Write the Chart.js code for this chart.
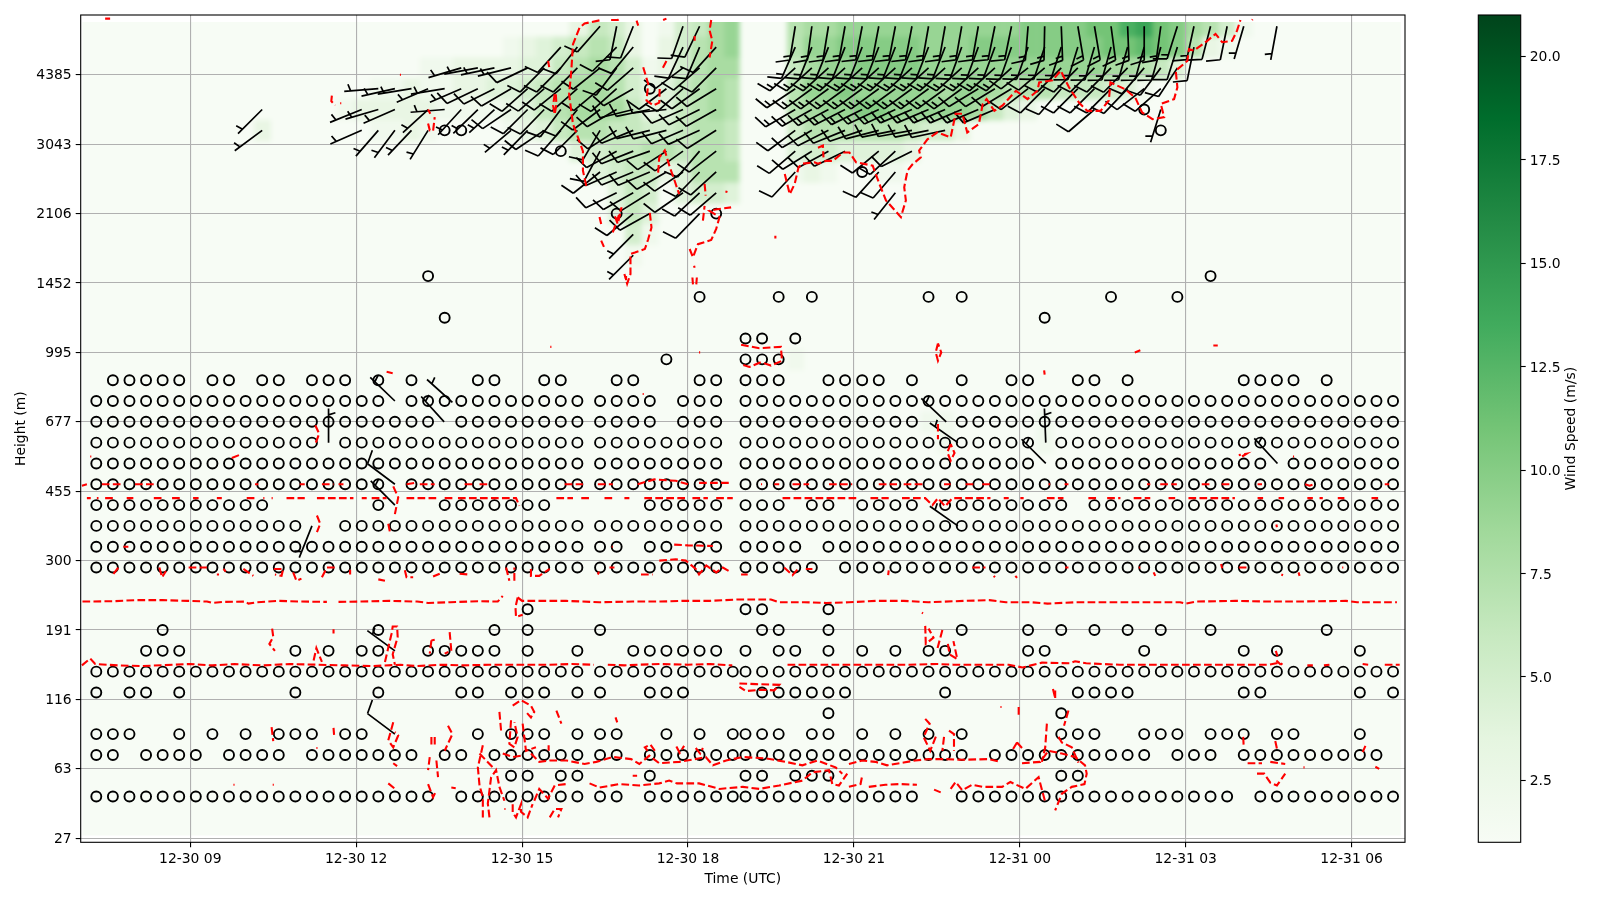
<!DOCTYPE html>
<html>
<head>
<meta charset="utf-8">
<title>Wind profile</title>
<script src="https://cdn.jsdelivr.net/npm/chart.js@4"></script>
<style>
html, body { margin: 0; background: #fff; }
canvas { position: absolute; left: 0; top: 0; }
</style>
</head>
<body>
<canvas id="mainChart" width="1600" height="900"></canvas>
<canvas id="barChart" width="1600" height="900"></canvas>
<script>
// x axis is hours since 12-30 00 UTC, y axis is the height level index
const xTickHours = [9, 12, 15, 18, 21, 24, 27, 30];
const xTickLabels = ["12-30 09", "12-30 12", "12-30 15", "12-30 18", "12-30 21", "12-31 00", "12-31 03", "12-31 06"];
const yTickLevels = [0, 10, 20, 30, 40, 50, 60, 70, 80, 90, 100, 110];
const yTickLabels = ["27", "63", "116", "191", "300", "455", "677", "995", "1452", "2106", "3043", "4385"];
const barTicks = [2.5, 5, 7.5, 10, 12.5, 15, 17.5, 20];

// observation times of the barb columns
const times = [7.3,7.6,7.9,8.2,8.5,8.8,9.1,9.4,9.7,10,10.3,10.6,10.9,11.2,11.5,11.8,12.1,12.4,12.7,13,13.3,13.6,13.9,14.2,14.5,14.8,15.1,15.4,15.7,16,
  16.41,16.71,17.01,17.31,17.61,17.91,18.21,18.51,18.81,19.04,19.34,19.64,19.94,20.24,20.54,20.84,
  21.15,21.45,21.75,22.05,22.35,22.65,22.95,23.25,23.55,23.85,24.15,24.45,24.75,25.05,25.35,25.65,25.95,26.25,26.55,26.85,27.15,27.45,27.75,28.05,28.35,28.65,28.95,29.25,29.55,29.85,30.15,30.45,30.75];

// calm (empty barb) columns per level, a pair is an inclusive run
const calm6 = [[0,20],[22,31],[33,49],[52,68],[70,78]];
const calm9 = [25,26,28,29,33,39,40,42,43,44,58,59];
const calm12 = [[0,1],[3,6],[8,11],[13,19],[21,22],[24,31],[33,52],[54,63],[65,67],[69,77]];
const calm15 = [0,1,2,5,7,9,11,12,13,15,16,23,25,26,27,29,30,31,34,36,38,39,40,41,43,44,46,48,50,52,58,59,60,63,64,65,67,68,69,71,72,76];
const calm18 = [44,58];
const calm21 = [0,2,3,5,12,17,22,23,25,26,27,29,30,33,34,35,40,41,42,43,44,45,51,59,60,61,62,69,70,76,78];
const calm24 = [[0,78]];
const calm27 = [3,4,5,12,14,16,17,20,21,22,23,24,26,29,32,33,34,35,36,37,39,41,42,44,46,48,50,51,56,57,63,69,71,76];
const calm30 = [4,17,24,26,30,40,41,44,52,56,58,60,62,64,67,74];
const calm33 = [26,39,40,44];
const calm39 = [[0,37],[39,43],[45,78]];
const calm42 = [[0,31],[33,34],[36,37],[39,42],[44,78]];
const calm45 = [[0,12],[15,37],[39,78]];
const calm48 = [[0,10],17,[21,27],[33,37],[39,41],[43,44],[46,49],[51,58],[60,78]];
const calm51 = [[0,17],[19,37],[39,78]];
const calm54 = [[0,37],[39,56],[58,70],[72,78]];
const calm57 = [[0,13],[15,37],[39,56],[58,78]];
const calm60 = [[0,20],[22,33],[35,37],[39,49],[52,78]];
const calm63 = [[0,17],[19,33],[35,37],[39,78]];
const calm66 = [1,2,3,4,5,7,8,10,11,13,14,15,17,19,23,24,27,28,31,32,36,37,39,40,41,44,45,46,47,49,52,55,56,59,60,62,69,70,71,72,74];
const calm69 = [34,39,40,41];
const calm72 = [39,40,42];
const calm75 = [21,57];
const calm78 = [36,41,43,50,52,61,65];
const calm81 = [20,67];
const calm90 = [31,37];
const calm96 = [46];
const calm99 = [28];
const calm102 = [21,22,64];
const calm105 = [63];
const calm108 = [33];
const calmRows = [[6,calm6],[9,calm9],[12,calm12],[15,calm15],[18,calm18],[21,calm21],[24,calm24],[27,calm27],[30,calm30],[33,calm33],
  [39,calm39],[42,calm42],[45,calm45],[48,calm48],[51,calm51],[54,calm54],[57,calm57],[60,calm60],[63,calm63],[66,calm66],[69,calm69],
  [72,calm72],[75,calm75],[78,calm78],[81,calm81],[90,calm90],[96,calm96],[99,calm99],[102,calm102],[105,calm105],[108,calm108]];

// wind barbs per level: [column, u, v] in m/s
const barb117 = [[30,6.6,7.5],[31,2,10],[32,3.7,9.3],[35,3.3,9.4],[36,4.3,9],
  [42,2.4,14.8],[43,2,14.9],[44,2.4,14.8],[45,2.6,14.7],[46,2.8,14.7],[47,2.8,14.7],[48,2.8,14.7],[49,2.8,14.7],[50,2.6,14.8],[51,2.6,14.8],[52,2.6,14.8],[53,2.6,14.8],[54,3,14.7],[55,3,14.7],
  [56,1.2,14.9],[57,0.3,15],[58,-0.6,15],[59,-2.5,14.8],[60,-2.5,14.8],[61,-2,14.9],[62,-0.6,15],[63,0,15],[64,2,14.9],[65,4.5,14.3],[66,3.2,14.6],[67,2.5,9.7],[68,2,9.8],[69,1.4,4.8],[71,0.9,4.9]];
const barb114 = [[28,6.7,7.4],[29,6.2,7.8],[31,7,7],[32,6.4,7.7],[35,4.2,9],[36,3.9,9.2],[37,6.7,7.4],
  [42,6,13.7],[43,5.6,14],[44,5.6,14],[45,5.6,14],[46,5.5,14],[47,5.5,14],[48,5.5,14],[49,5.5,14],[50,5.5,14],[51,5.5,14],[52,5.2,14.1],[53,5.2,14.1],[54,5.2,14.1],[55,5,14.2],[56,5,14.2],[57,4.8,14.2],[58,4.6,14.3],[59,4.4,14.3],[60,4.2,14.4],
  [61,4,14.4],[62,4,14.4],[63,4,14.4],[64,4,14.4],[65,3,9.5],[66,2,9.8]];
const barb111 = [[22,4.7,1.4],[23,4.9,0.9],[24,4.8,1],[25,4.8,1.2],[26,9,4.3],[27,7,7],[28,7,7],[29,7,7],[30,7.5,6],[31,6,8],[32,7.5,6.5],[35,8,6],[36,7.6,6.5],[37,7,7],
  [42,10.5,9.5],[43,10.5,9.5],[44,10.5,9.5],[45,10.5,9.5],[46,10.5,9.5],[47,10.5,9.5],[48,10.5,9.5],[49,10.5,9.5],[50,10.5,9.5],[51,10.5,9.5],[52,10.5,9.5],[53,10.5,9.5],[54,10.5,9.5],[55,10.5,9.5],
  [56,8,6.2],[57,7.6,6.5],[58,7,7],[59,7,7],[60,7,7],[61,7,7],[62,7,7.1],[63,6.5,7.6],[64,6,8],[65,5.5,8.4]];
const barb108 = [[17,5,0.4],[18,5,1.1],[19,5,0.8],[20,4.6,2],[21,5,0.8],[22,4.6,2],[23,9,4.3],[24,9,4.5],[25,8.5,5],[26,7.5,6.6],[27,7.5,6.5],[28,7.5,6],[29,7.5,6.6],[30,7.7,6.4],[31,7.5,6.7],[32,8.7,5],[34,8,6],[35,7.5,6.7],[36,8,5.8],[37,8.5,5.2],
  [42,11.2,7.5],[43,11,8],[44,11,8],[45,11,8],[46,11,8],[47,11,8],[48,11,8],[49,11,8],[50,11,8],[51,11,8],[52,11,8],[53,9,5.5],[54,9,5.5],[55,9,5.5],[56,8,6.2],[57,7,7],[58,6.5,7.5],[59,7,7],[60,7,7],[61,7,7],[62,6.9,7.2],[63,7.9,6.1],[64,7.5,6.6]];
const barb105 = [[10,3.6,3.6],[16,4.7,1.9],[17,4.8,1.4],[18,4.6,2],[20,3.7,3.4],[21,5,0.4],[22,3.4,3.7],[23,3.6,3.5],[24,3.7,3.4],[25,8.3,5.6],[26,7,7],[27,7,7.2],[28,6,8],[29,6.3,7.7],[30,8,6],[31,8.6,5],[32,9.7,2.4],[33,9.8,2],[34,10,1],[35,9.2,4],[36,9,4.5],[37,8.7,4.9],
  [42,12,7],[43,12.2,6.8],[44,12.4,6.5],[45,12.5,6.4],[46,12.6,6.2],[47,12.8,6],[48,12.8,6],[49,13,5.5],[50,13,5.5],[51,13,5.5],[52,13,5.5],[53,13,5.5],[54,13,5.5],[60,7.6,6.5],[64,1.5,4.8]];
const barb102 = [[10,3.9,2.9],[16,4.6,2],[17,3.3,3.8],[18,3,4],[19,3.4,3.6],[20,2.6,4.2],[25,3.8,3.2],[26,3.5,3.6],[27,8.3,5.6],[28,6.6,7.5],[29,7,7],[30,5,8.6],[31,8.4,5.4],[32,9.3,3.8],[33,9.7,2.4],[34,9.7,2.5],[35,9.2,3.9],[36,9.1,4.1],[37,8.5,5.3],
  [42,7.5,5.6],[43,8.6,5],[44,8.9,4.5],[45,9.3,3.8],[46,9.5,3.2],[47,9.7,2.5],[48,9.8,2],[49,9.8,1.8],[50,9.8,2],[51,9.8,2.1]];
const barb99 = [[30,4.7,8.8],[31,8.8,4.8],[32,9.3,3.7],[33,9.4,3.3],[34,8.4,5.4],[35,8.2,5.8],[36,6.5,7.6],[37,7.9,6.1],[42,7.6,6.5],[43,8.5,5.3],[44,8.8,4.8],[45,9,4.4],[47,7.7,6.4],[48,7.3,6.8],[49,8.9,4.5]];
const barb96 = [[30,7.8,6.2],[31,9.1,4],[32,9.2,3.8],[33,9.2,3.9],[34,8.5,5],[35,8.3,5.6],[36,7,7.2],[37,7.4,6.7],[42,6.8,7.3],[47,6.7,7.4],[48,6.5,7.6]];
const barb93 = [[31,9,4.4],[32,8.7,4.9],[33,8.5,5.3],[35,8.2,5.7],[36,7.3,6.8],[37,7.6,6.6],[48,3.1,3.9]];
const barb90 = [[32,7.7,6.4],[33,8.7,4.8],[36,7,7.2]];
const barb87 = [[32,3.5,3.5]];
const barb84 = [[32,3.5,3.5]];
const barbRows = [[117,barb117],[114,barb114],[111,barb111],[108,barb108],[105,barb105],[102,barb102],[99,barb99],[96,barb96],[93,barb93],[90,barb90],[87,barb87],[84,barb84]];

// the few barbs low down: [hour, level, u, v]
const lowBarbs = [[12.7,63,5,-4.8],[13.74,62.8,5,-4.5],[13.59,60,4.8,-5.3],[11.5,57,0,-5],[12.7,51,6,-4.5],[12.7,48,5,-5],[11.2,45,2,5],[12.7,27,6,-4.4],[12.7,15,6,-4.5],
  [22.67,60,5,-4.7],[22.88,57,6,-4.2],[24.47,57,0.2,-5],[24.47,54,5,-5],[22.88,45,6,-4.2],[28.66,54,4.8,-5.2]];

// wind speed per level as [first column, speeds], one base 36 digit per column
const heat117 = [[29,"3653125689"],[42,"78899999999999aaaabbdeba8752"]];
const heat114 = [[25,"23456763135789"],[42,"799aaaaa999aaaaaaaabbcba732"]];
const heat111 = [[20,"2233334467875235788"],[42,"6899aaaa9999999999988764" + "1"]];
const heat108 = [[17,"2232233445678875346787"],[42,"799a9999989987776665" + "42"]];
const heat105 = [[15,"233333222234678886346787"],[42,"7899aa999998643"]];
const heat102 = [[10,"3"],[17,"2232"],[25,"23467766556776"],[42,"57777776553"]];
const heat99 = [[29,"4566776776"],[42,"45544443"]];
const heat96 = [[30,"456634777"],[42,"232"],[47,"22"]];
const heat93 = [[31,"46514554"]];
const heat90 = [[31,"464"]];
const heat87 = [[32,"52"]];
const heat84 = [[32,"2"]];
const heat69 = [[42,"2"]];
const heat60 = [[50,"22"],[57,"2"]];
const heat57 = [[51,"2"],[57,"2"]];
const heatRows = [[117,heat117],[114,heat114],[111,heat111],[108,heat108],[105,heat105],[102,heat102],[99,heat99],[96,heat96],[93,heat93],[90,heat90],[87,heat87],[84,heat84],[69,heat69],[60,heat60],[57,heat57]];

// red contour pieces as [hour, level], null breaks the line
const redTop = [[7.46,118.1],[7.55,118.1],null,
  [16.16,94],[16.1,96.2],[16.1,99],[16.01,101],[15.92,102.9],[15.85,107.2],[15.89,110.6],[15.92,114.4],[16.04,116.8],[16.13,117.4],[16.43,117.9],null,[16.61,117.9],[16.73,117.9],[16.78,118.2],null,
  [15.47,112],[15.49,111.1],null,[15.59,107.2],[15.56,105.6],[15.59,104.3],[15.62,105.8],[15.61,107.2],null,
  [17.46,95.9],[17.48,98.1],[17.58,99.1],[17.67,96.7],[17.76,94.7],[17.84,92.8],null,
  [16.4,89.5],[16.43,88.5],null,[16.43,86.1],[16.48,85.2],null,[16.64,87.3],[16.8,90.9],[16.73,88.5],[16.66,90],null,
  [17.31,90.1],[17.34,88],[17.28,86.3],[17.22,84.9],[17.04,84.4],[16.96,84.2],[16.96,81.3],[16.9,79.9],[16.85,81.3],null,
  [18.03,84.9],[18.09,83.7],[18.18,85.6],[18.42,86.2],[18.51,87.8],[18.57,89.5],[18.39,90.4],[18.5,90.6],[18.78,90.9],null,
  [18.27,89],[18.3,91.1],null,[18.3,94.3],[18.32,92.6],null,[18.69,93],[18.7,93.3],null,[18.11,82.5],[18.12,82.2],null,[18.08,80.8],[18.09,79.8],null,[18.16,80.8],[18.15,79.8],null,
  [17.07,117.8],[17.1,117.1],null,[17.19,111.1],[17.28,108.7],[17.25,106.3],[17.37,105.6],[17.48,106],[17.49,108.4],null,[17.61,112],[17.52,110.6],null,
  [18.42,117.9],[18.39,116.4],[18.44,114.9],[18.39,112.5],null,[18.12,115.6],[18.12,114.9],null,[17.55,117.9],[17.61,118.1],null,[19.58,86.8],[19.58,86.4],null,
  [19.75,95.7],[19.84,92.8],[19.93,94.3],[20,96.7],[20.08,97.2],[20.29,97.4],[20.35,97.2],[20.5,97.6],[20.62,97.6],[20.8,98.8],[20.92,98.8],[21.04,97.4],[21.34,96.9],[21.46,94.3],[21.58,91.9],[21.85,89.5],[21.94,91.9],[21.91,93.8],[21.97,96.2],[22.06,97.1],[22.21,98.1],[22.18,99.1],[22.33,100.7],[22.51,101.7],[22.75,101],[22.84,104.4],[22.96,104.4],[23.05,101.7],[23.26,102.9],[23.33,105.8],[23.4,106.5],[23.54,104.8],[23.69,105.6],[23.93,107.7],[24.14,106.5],[24.32,107.7],[24.35,108.9],[24.59,109.2],[24.74,110.6],[24.89,108.2],[25.07,106],[25.22,104.8],[25.46,104.8],[25.61,106.3],[25.64,108.9],[25.91,107.9],[26.09,106.7],[26.21,104.6],[26.4,103.6],[26.61,103.9],[26.55,105.8],[26.79,106.5],[26.85,108.2],[26.82,110.6],[27.03,112],[27.06,113.7],[27.15,113.5],[27.39,114.9],[27.54,115.9],[27.66,114.7],[27.84,114.9],[27.93,116.4],[27.99,117.9],null,
  [28.2,117.9],[28.21,118],null,[20.35,99.5],[20.44,99.8],[20.45,98.1],null,
  [11.56,107],[11.55,106.2],[11.62,105.6],null,[11.71,105.9],[11.73,105.9],null,[13.3,105],[13.34,104.4],null,[13.3,103],[13.33,102],[13.39,101.9],[13.42,103.9],null,[12.79,110],[12.81,110],null];
const redMid = [[18.96,71.1],[19.29,70.6],[19.68,70.8],[19.7,68.8],[19.5,68.1],[19.32,68.6],[19.11,67.9],[18.96,68.3],null,
  [15.51,70.8],[15.53,70.8],null,[18.2,70],[18.22,70],null,[16.88,81],[16.88,80.4],null,[17.18,64],[17.2,64],null,
  [22.52,71.3],[22.48,70],[22.52,68.8],[22.58,70],[22.52,71.3],null,[24.44,67.4],[24.45,66.8],null,[26.08,70],[26.18,70.3],null,[27.5,71],[27.58,71],null,
  [22.52,59.7],[22.52,57.5],null,[22.75,56.8],[22.69,55.6],[22.75,54.4],[22.82,55.5],[22.75,56.8],null,
  [11.26,59.5],[11.33,58.3],[11.27,57],null,[9.75,54.8],[9.88,55.2],null,[7.19,55],[7.21,55],null,[12.55,67.2],[12.66,67],null,
  [28.02,55],[28.1,55.4],[27.96,55.2],null,[28.94,55],[28.96,55],null,[12.67,50.7],[12.76,49.1],[12.7,46.7],null,[12.58,45.3],[12.61,44.1],null,[11.29,46.5],[11.35,45.3],[11.29,44.1],null,[7.79,42],[7.88,42],null,
  [28.64,45.2],[28.65,44.8],null,[16.62,42],[16.64,42],null,[17.75,42.3],[18,42.2],[18.45,42.1],null];
const redLevel51 = [[7.04,50.8],[7.13,51],null,[7.4,51],[7.76,51],null,[8,51],[8.34,51],null,[10.17,51],[10.23,51],null,[10.98,51],[11.07,51],null,[11.38,51],[11.59,51],null,[11.68,51],[11.77,51],null,[12.91,51],[13.06,51.2],null,[13.15,51],[13.42,51],null,
  [13.96,51],[14.11,51],null,[14.23,51],[14.41,51],null,[15.77,51],[16.1,51],null,[16.37,51],[16.64,51],null,[17.09,51],[17.39,51.7],[17.78,51.5],[18,51],null,[18.2,51.2],[18.78,51.2],null,[19.32,51],[19.34,51],null,[19.56,51],[19.65,51],null,[19.89,51],[20.19,51],null,[20.55,51],[20.97,51],null,
  [21.45,51],[21.78,51],null,[21.9,51],[22.26,51],null,[22.63,51],[22.75,51],null,[23.02,51],[23.17,51],null,[23.32,51],[23.47,51],null,[24.52,51],[24.55,51],null,[24.81,51],[24.88,51],null,[26.3,51],[26.36,51],null,[26.54,51],[26.84,51],null,[27.29,51],[27.47,51],null,[27.65,51],[27.8,51],null,
  [28.3,51],[28.38,51],null,[29.16,51],[29.24,50.8],[29.32,51],null,[30.6,51],[30.68,51],null];
const redLevel49 = [[7.13,49],[7.2,49],null,[7.31,49],[7.34,49],null,[7.46,49],[7.64,49],null,[7.85,49],[7.97,49],null,[8.34,49],[8.49,49],null,[8.67,49],[8.85,49],null,[9.05,49],[9.15,49],null,[9.48,49],[9.57,49],null,[10.02,49],[10.17,49],null,[10.32,49],[10.34,49],null,[10.47,49],[10.49,49],null,[10.74,49],[11.07,49],null,[11.29,49],[11.95,49],null,[12.1,49],[12.19,49],null,[12.28,49],[12.55,49],null,[12.91,49],[13.48,49],null,[13.6,49],[13.75,49],null,[13.84,49],[14.89,49],[14.95,47.9],null,
  [15.62,49],[15.92,49],null,[16.07,49],[16.25,49],null,[16.49,49],[16.67,49],null,[16.85,49],[16.94,49],null,[17.21,49],[17.96,49],null,[18.08,49],[18.36,49],null,[18.51,49],[18.81,49],null,[19.71,49],[21.09,49],null,[21.3,49],[21.63,49],null,[21.87,49],[22.29,49],[22.42,48],[22.52,49],[22.65,47.8],[22.78,49],[23.47,49],null,[23.71,49],[23.8,49],null,[24.01,49],[24.07,49],null,[24.49,49],[24.79,49],null,[25.24,49],[25.43,49],null,[25.58,49],[25.82,49],null,[26.06,49],[26.36,49],null,[26.69,49],[26.81,49],null,[27.05,49],[27.89,49],null,
  [28.3,49],[28.4,49],null,[28.68,49],[28.78,49],null,[29.2,49],[29.3,49],null,[29.42,49],[29.48,49],null,[29.75,49],[29.87,49],null,[30.36,49],[30.48,49],null];
const redLevel38 = [[7.61,38.1],[7.7,39],null,[8.44,39],[8.49,37.6],[8.56,38.5],null,[8.97,39],[9.3,39],null,[9.48,38],[9.52,38],null,[9.6,38.8],[9.64,38.4],null,[9.96,38.8],[10.14,37.8],null,[10.51,38.8],[10.68,38.8],[10.65,37.8],[10.53,38],null,[10.86,38.3],[10.92,37.1],[11.01,37.4],null,[11.38,37.6],[11.47,39],[11.65,39],null,[11.89,38.7],[11.89,38],null,[12.4,37.3],[12.52,37.1],null,[12.88,38.6],[12.91,37.6],[13.03,37.6],null,[13.39,37.7],[13.51,38.1],null,[13.87,38.1],[14.05,38],null,
  [14.71,39],[14.77,37.1],null,[14.86,37.1],[14.86,39],null,[15.16,38.8],[15.16,37.8],[15.31,37.8],[15.5,38.8],null,[16.37,38],[16.39,38.4],null,[16.58,39],[16.67,39],null,[17.15,38],[17.36,38],null,[17.48,40],[17.78,40.2],[17.96,40],[18.14,38.8],[18.2,38],[18.33,39.3],[18.51,38.3],[18.63,39],[18.78,38.3],null,[18.96,38],[19.08,38],null,[19.74,39],[19.89,37.9],[20.01,39],null,[20.13,38.8],[20.25,38.8],null,
  [21.63,38.6],[21.62,37.9],null,[23.14,39],[23.38,39],null,[23.53,37.8],[23.55,37.6],null,[23.92,37.8],[23.95,37.5],null,[24.82,39],[24.88,39],null,[26.15,39],[26.18,39],null,[26.42,38.3],[26.45,37.8],null,[27.64,39.5],[27.66,38.9],null,[27.96,39],[28.1,39],null,[28.73,38],[28.76,37.9],null,[29.04,38.3],[29.06,37.8],null,[29.83,39],[29.85,39],null];
const redLine34 = [[7.05,34.1],[7.6,34.15],[8,34.3],[8.5,34.3],[8.95,34.2],[9.3,34.1],[9.4,33.9],[9.6,34.05],[10,34.1],[10.05,33.8],[10.2,34],[10.6,34.2],[11,34.1],[11.47,34.05],null,[11.68,34.05],[12.1,34.1],[12.6,34.2],[13.1,34.1],[13.3,33.9],[13.7,34],[14.2,34.15],[14.56,34.1],[14.65,34.9],null,
  [14.92,34.7],[14.88,33.3],[14.89,31.9],[15.01,32.2],null,[14.92,34.7],[15,34.2],[15.8,34.2],[16.4,34],[17,34.1],[17.5,34.1],[17.9,34.2],[18.4,34.2],[18.9,34.4],[19.5,34.4],[19.65,34],[20.1,34],[20.5,33.9],[20.91,34],[21.4,34.2],[21.9,34.2],[22.35,34],[23,34.2],[23.45,34.3],[23.75,34],[24.2,34],[24.5,33.8],[25,34],[25.5,34],[26,34],[26.9,34],[27,33.8],[27.2,34.1],[27.9,34.2],[28.5,34.1],[29,34.1],[29.9,34.2],[30.1,34],[30.82,34]];
const redLine25 = [[7.04,24.9],[7.19,25.9],[7.28,25.1],[7.7,24.9],[8.1,24.8],[8.7,25],[9,25.1],[9.4,24.9],[9.8,25.1],[10.3,24.9],[10.8,25.1],[11.3,25],[11.8,24.9],[12.3,24.8],[12.8,25],[13.1,24.8],[13.55,25],[13.9,24.9],[14.4,25],[15,25],[15.5,25],[15.9,25.1],[16.3,25],null,[16.55,25],[16.85,24.9],[17.1,25],[17.5,25.1],[18,25],[18.4,25.1],[18.8,24.9],null,
  [19.8,25],[20.1,25],[20.5,25],[20.9,25],[21.4,25],[22,25],[22.5,25.1],[22.8,25],[23.3,25],[23.8,25],[24.05,24.6],[24.4,25.3],[24.9,25.2],[25,25.5],[25.2,25.2],[25.8,25],[26.3,25],[26.9,25],[27.5,25],[27.96,25],[28.5,25],[28.7,25.3],[28.75,25],null,[29.2,24.9],[29.3,24.9],null,[29.5,24.9],[29.6,25],null,[30.2,25.1],[30.3,25],null,[30.6,25],[30.87,25]];
const redBumps = [[11.23,25.6],[11.28,27.4],[11.38,25.4],null,[12.52,25.4],[12.64,29.5],[12.66,30.5],[12.74,30.5],[12.75,29],[12.66,26.5],[12.7,25],null,
  [10.48,30.2],[10.5,29],[10.43,28],[10.53,27],null,[11.59,30.1],[11.59,29.5],null,[13.36,28.5],[13.33,26.6],null,[13.36,28.5],[13.42,28.6],null,[13.69,29.7],[13.72,27],[13.6,26.6],null,
  [18.93,22.3],[19.23,22.2],[19.65,22.1],[19.56,21.3],[19.32,21.4],[19.05,21.2],[18.93,21.8],null,
  [22.29,30.6],[22.3,28],[22.44,28.9],[22.35,30.2],null,[22.6,30],[22.5,27],null,[22.7,28],[22.73,26.5],[22.87,25.8],[22.8,28.4],null,[22.23,32.5],[22.25,32.4],null,[24.6,21.5],[24.64,20.2],null,[28.63,27],[28.66,26.2],null,[28.64,25.6],[28.72,25],null];
const redLow1 = [[15.16,12.2],[15.31,11],[15.5,11.2],[15.8,11.2],[16.13,10.7],[16.34,11],[16.64,11.7],[16.97,11.4],[17.12,10.7],[17.3,11.9],[17.48,10.8],[17.84,11],[18.14,11.4],[18.32,11.7],[18.45,10.5],[18.69,11.2],[18.99,11.7],[19.41,11.5],[19.77,11],[20.07,10.5],[20.34,11.2],[20.67,10.2],[20.79,9.3],null,
  [20.91,10.7],[21.15,11.2],[21.39,11],[21.6,10.5],[21.9,10.9],[22.11,11.2],[22.35,11.4],[22.66,11.4],[22.96,11.3],[23.44,11.4],[23.65,11],null,[24.04,10.8],[24.37,11],[24.52,12.6],[24.76,12.2],[25,11.7],[25.18,10.5],[25.21,9.3],[25.17,7.8],[24.94,7.4],[24.76,6.4],[24.64,4],null,
  [16.22,7.9],[16.4,7.3],[16.76,7.8],[17.12,7.6],[17.48,7.9],[17.66,8.3],[17.8,7.9],[18.2,7.9],[18.57,7.1],[18.99,7.4],[19.29,7.1],[19.65,7.6],[20.07,8.3],[20.25,9.5],[20.55,9.8],[20.61,7.8],[20.73,7.6],[20.88,9.3],null,
  [20.91,7.4],[21.12,7.8],[21.15,9],null,[21.27,7.4],[21.57,7.7],[21.84,7.8],[22.14,7.7],null,[22.45,7],[22.57,6.6],null,[22.75,7.1],[22.84,8.1],[22.96,6.9],[23.14,7.7],[23.32,7.4],[23.68,7.4],[23.83,8.1],[24.1,7.1],[24.34,8.8],[24.46,5.2],null];
const redLow2 = [[22.29,17.2],[22.37,16.5],[22.26,14.6],[22.38,12.6],[22.5,15],null,[22.63,14.6],[22.6,12.6],null,[22.72,15.5],[22.81,15],[22.81,12.6],null,[23.95,13.8],[23.86,12.6],null,[23.95,13.8],[24.04,13],null,
  [24.64,21.3],[24.64,19.8],null,[24.88,18.4],[24.8,16.2],null,[24.49,16.5],[24.46,13.1],[24.4,11],null,[24.7,14.6],[24.76,13.8],[24.94,13.1],[25.06,10.9],null,[23.98,18.9],[23.98,17.4],null,[23.65,18.9],[23.67,18.9],null,
  [12.67,16.7],[12.58,14.1],[12.67,13.1],[12.76,14.8],[12.7,15.3],null,[13.36,14.6],[13.36,13.4],null,[13.42,14.6],[13.42,13.4],null,[13.33,11.7],[13.3,9.8],null,[13.45,11.2],[13.48,8.8],null,[13.3,7.8],[13.39,5.9],[13.45,6.9],null,[13.66,16.2],[13.74,15],[13.6,12.6],null,[10.47,16],[10.5,14],null,[11.59,15.9],[11.6,14.9],null,[12.58,7.9],[12.72,7],null,[12.67,10.8],[12.74,10.4],null,[13.72,7.3],[13.8,7.2],null,[9.78,7.7],[9.8,7.7],null,[10.49,7.7],[10.51,7.7],null,[11.28,13],[11.3,13],null,
  [14.29,13.4],[14.2,10.2],[14.23,7.6],[14.29,5.9],[14.29,3],null,[14.41,3],[14.38,5],[14.44,8.8],[14.53,9.8],[14.59,7.4],[14.68,5.4],null,[14.23,12.2],[14.47,10.2],null,[14.59,18.2],[14.62,15.5],null,[14.83,19.1],[14.98,19.9],[15.16,19.1],[15.22,18.2],[15.16,17.4],[15.07,18.2],null,[14.8,17],[14.77,13.6],[14.86,13.1],[14.92,14.6],[14.86,16.7],null,[15.01,16.5],[15.07,12.6],[15.25,13.1],null,[14.65,12.2],[14.83,11.7],[15,11.9],null,[15.48,13.4],[15.48,12.6],null,[15.62,18.4],[15.71,16.5],null,[16.69,17.4],[16.72,16.7],null,
  [14.83,4.9],[14.83,3.7],[14.89,3],[14.98,4.9],[14.98,3.8],[15.1,3],[15.19,4.9],null,[15.22,5.4],[15.31,7.1],[15.47,5.7],[15.59,7.6],[15.8,7.8],null,[15.5,3],[15.59,4.2],[15.71,4.2],[15.65,3],null,[14.68,4.2],[14.7,4.2],null,[17,9],[17.08,9],null,[17.27,12.6],[17.22,13.1],[17.32,13.5],[17.4,12.6],null,[17.79,13.2],[17.85,12.3],[17.93,13.3],null,[18.14,13],[18.22,12.2],[18.27,13],null,[28.04,14.6],[28.05,13.1],null,[28.62,14],[28.65,12.9],null,[28.12,10.8],[28.38,10.8],null,[28.53,11],[28.8,10.7],null,[28.29,9.3],[28.42,9.3],[28.53,8],[28.65,7.6],[28.8,9.3],null,[30.25,13.3],[30.2,12.4],null,[29.13,10.2],[29.15,10.2],null,[30.43,10.3],[30.5,10],null];
const redPieces = [redTop, redMid, redLevel51, redLevel49, redLevel38, redLine34, redLine25, redBumps, redLow1, redLow2];

const greens = ["#f7fcf5", "#e5f5e0", "#c7e9c0", "#a1d99b", "#74c476", "#41ab5d", "#238b45", "#006d2c", "#00441b"];
const speedMin = 1, speedMax = 21;

function hexToRgb(h) {
  return [parseInt(h.slice(1, 3), 16), parseInt(h.slice(3, 5), 16), parseInt(h.slice(5, 7), 16)];
}

function speedColor(s) {
  const t = Math.min(Math.max((s - speedMin) / (speedMax - speedMin), 0), 1) * (greens.length - 1);
  const i = Math.min(Math.floor(t), greens.length - 2);
  const a = hexToRgb(greens[i]), b = hexToRgb(greens[i + 1]), f = t - i;
  return "rgb(" + a.map((c, k) => Math.round(c + (b[k] - c) * f)).join(",") + ")";
}

const calmPoints = [];
calmRows.forEach(([level, cols]) => {
  cols.forEach(c => {
    const from = Array.isArray(c) ? c[0] : c;
    const to = Array.isArray(c) ? c[1] : c;
    for (let i = from; i <= to; i++) calmPoints.push({ x: times[i], y: level });
  });
});

const barbPoints = [];
barbRows.forEach(([level, row]) => {
  row.forEach(([col, u, v]) => barbPoints.push({ x: times[col], y: level, u: u, v: v }));
});
lowBarbs.forEach(([hour, level, u, v]) => barbPoints.push({ x: hour, y: level, u: u, v: v }));

function redData(piece) {
  return piece.map(p => p ? { x: p[0], y: p[1] } : { x: NaN, y: NaN });
}

const redSets = redPieces.map(piece => ({
  type: "line",
  data: redData(piece),
  borderColor: "#ff0000",
  borderWidth: 2.1,
  borderDash: [7.7, 3.3],
  pointRadius: 0,
  tension: 0,
  spanGaps: false,
  order: 1
}));

// the speed field goes under the grid lines
const heatPlugin = {
  id: "heat",
  beforeDraw(chart) {
    const xs = chart.scales.x, ys = chart.scales.y, ctx = chart.ctx;
    const off = document.createElement("canvas");
    off.width = chart.width;
    off.height = chart.height;
    const o = off.getContext("2d");
    o.fillStyle = speedColor(speedMin);
    o.fillRect(0, 0, off.width, off.height);
    heatRows.forEach(([level, spans]) => {
      const top = ys.getPixelForValue(level + 1.5), bottom = ys.getPixelForValue(level - 1.5);
      spans.forEach(([first, digits]) => {
        for (let i = 0; i < digits.length; i++) {
          const c = first + i;
          const left = xs.getPixelForValue((times[c - 1] + times[c]) / 2);
          const right = xs.getPixelForValue((times[c] + times[c + 1]) / 2);
          o.fillStyle = speedColor(parseInt(digits[i], 36));
          o.fillRect(left, top, right - left + 0.5, bottom - top + 0.5);
        }
      });
    });
    const x0 = xs.getPixelForValue(7.05), x1 = xs.getPixelForValue(30.89);
    const y0 = ys.getPixelForValue(117.6), y1 = ys.getPixelForValue(0.4);
    ctx.save();
    ctx.beginPath();
    ctx.rect(x0, y0, x1 - x0, y1 - y0);
    ctx.clip();
    ctx.filter = "blur(2.5px)";
    ctx.drawImage(off, 0, 0);
    ctx.restore();
  }
};

// stems start at the data point and the feathers sit at the far end
const barbPlugin = {
  id: "barbs",
  beforeDatasetsDraw(chart) {
    const idx = chart.data.datasets.findIndex(d => d.label === "barbs");
    const meta = chart.getDatasetMeta(idx);
    const ctx = chart.ctx;
    const len = 34.2, spacing = len * 0.125, fullH = len * 0.4, fullW = len * 0.25;
    ctx.save();
    ctx.strokeStyle = "#000";
    ctx.lineWidth = 1.7;
    ctx.lineJoin = "round";
    meta.data.forEach((el, i) => {
      const b = chart.data.datasets[idx].data[i];
      const s = Math.hypot(b.u, b.v);
      const dx = -b.u / s, dy = b.v / s;
      const rx = -dy, ry = dx;
      const along = a => [el.x + dx * a, el.y + dy * a];
      ctx.beginPath();
      ctx.moveTo(el.x, el.y);
      ctx.lineTo(...along(len));
      let steps = Math.round(s / 5);
      let full = Math.floor(steps / 2);
      const half = steps % 2;
      let offset = len;
      while (full-- > 0) {
        const p = along(offset), q = along(offset + fullW / 2);
        ctx.moveTo(p[0], p[1]);
        ctx.lineTo(q[0] + rx * fullH, q[1] + ry * fullH);
        offset -= spacing;
      }
      if (half) {
        if (offset === len) offset -= 1.5 * spacing;
        const p = along(offset), q = along(offset + fullW / 4);
        ctx.moveTo(p[0], p[1]);
        ctx.lineTo(q[0] + rx * fullH / 2, q[1] + ry * fullH / 2);
      }
      ctx.stroke();
    });
    ctx.restore();
  }
};

const framePlugin = {
  id: "frame",
  afterDraw(chart) {
    const a = chart.chartArea, ctx = chart.ctx;
    ctx.save();
    ctx.strokeStyle = "#000";
    ctx.lineWidth = 1.1;
    ctx.strokeRect(a.left, a.top, a.right - a.left, a.bottom - a.top);
    ctx.restore();
  }
};

const fontSpec = { family: "'DejaVu Sans'", size: 13.9 };

new Chart(document.getElementById("mainChart"), {
  type: "scatter",
  data: {
    datasets: redSets.concat([
      {
        label: "calm",
        data: calmPoints,
        pointStyle: "circle",
        pointRadius: 5,
        borderColor: "#000",
        backgroundColor: "rgba(0,0,0,0)",
        pointBorderWidth: 1.9,
        order: 2
      },
      { label: "barbs", data: barbPoints, pointRadius: 0, order: 3 }
    ])
  },
  plugins: [heatPlugin, barbPlugin, framePlugin],
  options: {
    responsive: false,
    animation: false,
    devicePixelRatio: 1,
    layout: { autoPadding: false, padding: { left: 0, top: 15, right: 195, bottom: 0 } },
    plugins: { legend: { display: false }, tooltip: { enabled: false } },
    scales: {
      x: {
        type: "linear",
        min: 7.018,
        max: 30.966,
        afterBuildTicks(scale) { scale.ticks = xTickHours.map(v => ({ value: v })); },
        afterFit(scale) { scale.height = 57.7; },
        ticks: {
          color: "#000",
          font: fontSpec,
          padding: 4,
          maxRotation: 0,
          autoSkip: false,
          callback: v => xTickLabels[xTickHours.indexOf(v)]
        },
        grid: { color: "#b0b0b0", lineWidth: 1.1, tickColor: "#000", tickLength: 5, tickWidth: 1.1 },
        border: { display: false },
        title: { display: true, text: "Time (UTC)", color: "#000", font: fontSpec, padding: { top: 0, bottom: 12 } }
      },
      y: {
        type: "linear",
        min: -0.59,
        max: 118.62,
        afterBuildTicks(scale) { scale.ticks = yTickLevels.map(v => ({ value: v })); },
        afterFit(scale) { scale.width = 80.7; },
        ticks: {
          color: "#000",
          font: fontSpec,
          padding: 4,
          labelOffset: 1,
          autoSkip: false,
          callback: v => yTickLabels[yTickLevels.indexOf(v)]
        },
        grid: { color: "#b0b0b0", lineWidth: 1.1, tickColor: "#000", tickLength: 5, tickWidth: 1.1 },
        border: { display: false },
        title: { display: true, text: "Height (m)", color: "#000", font: fontSpec, padding: { top: 13, bottom: 0 } }
      }
    }
  }
});

const barTitlePlugin = {
  id: "barTitle",
  afterDraw(chart) {
    const ctx = chart.ctx, a = chart.chartArea;
    ctx.save();
    ctx.translate(1571, (a.top + a.bottom) / 2);
    ctx.rotate(-Math.PI / 2);
    ctx.font = "13.9px 'DejaVu Sans'";
    ctx.fillStyle = "#000";
    ctx.textAlign = "center";
    ctx.textBaseline = "middle";
    ctx.fillText("Wind Speed (m/s)", 0, 0);
    ctx.restore();
  }
};

new Chart(document.getElementById("barChart"), {
  type: "bar",
  data: {
    labels: ["speed"],
    datasets: [{
      data: [[speedMin, speedMax]],
      barPercentage: 1,
      categoryPercentage: 1,
      backgroundColor(c) {
        const area = c.chart.chartArea;
        if (!area) return greens[0];
        const g = c.chart.ctx.createLinearGradient(0, area.bottom, 0, area.top);
        greens.forEach((col, i) => g.addColorStop(i / (greens.length - 1), col));
        return g;
      }
    }]
  },
  plugins: [framePlugin, barTitlePlugin],
  options: {
    responsive: false,
    animation: false,
    devicePixelRatio: 1,
    layout: { autoPadding: false, padding: { left: 1478.3, top: 15, right: 0, bottom: 57.7 } },
    plugins: { legend: { display: false }, tooltip: { enabled: false } },
    scales: {
      x: { display: false },
      y: {
        position: "right",
        min: speedMin,
        max: speedMax,
        afterBuildTicks(scale) { scale.ticks = barTicks.map(v => ({ value: v })); },
        afterFit(scale) { scale.width = 79.3; },
        ticks: { color: "#000", font: fontSpec, padding: 4, labelOffset: 1.5, autoSkip: false, callback: v => v.toFixed(1) },
        grid: { drawOnChartArea: false, tickColor: "#000", tickLength: 5, tickWidth: 1.1 },
        border: { display: false }
      }
    }
  }
});
</script>
</body>
</html>
